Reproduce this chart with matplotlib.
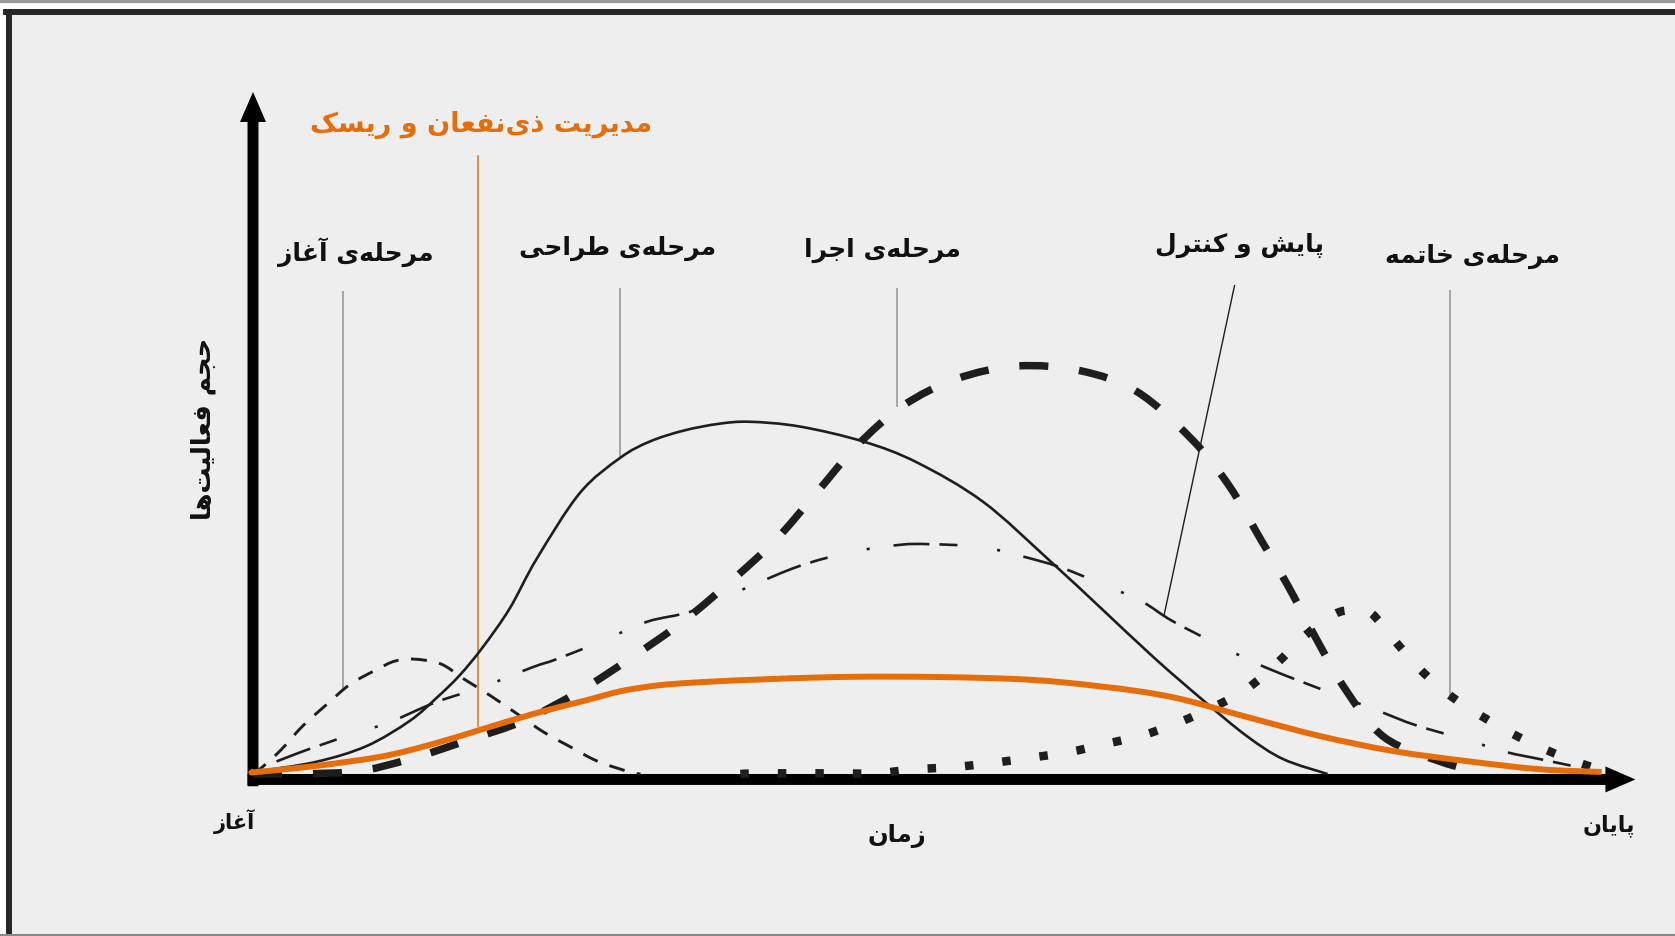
import matplotlib
matplotlib.use('Agg')
import matplotlib.pyplot as plt
from matplotlib.patches import Rectangle, FancyArrowPatch, PathPatch
from matplotlib.lines import Line2D
from matplotlib.path import Path

plt.rcParams['font.family'] = ['DejaVu Sans']
plt.rcParams['lines.scale_dashes'] = False

# ---- texts ----
title_text = 'مدیریت ذی\u200cنفعان و ریسک'
phase_labels = ['مرحله\u200cی آغاز', 'مرحله\u200cی طراحی', 'مرحله\u200cی اجرا',
                'پایش و کنترل', 'مرحله\u200cی خاتمه']
y_label = 'حجم فعالیت\u200cها'
x_label = 'زمان'
start_label = 'آغاز'
end_label = 'پایان'

# ---- curves: x = time (0..100), y = activity volume ----
init_x = [0, 0.5, 2.0, 3.7, 5.5, 7.2, 9.2, 10.5, 11.9, 13.9, 15.6, 17.6, 19.6, 21.5, 23.5, 25.5, 27.9, 28.7]
init_y = [0, 0.7, 3.4, 7.1, 10.3, 13.2, 15.4, 16.6, 16.9, 16.2, 14.0, 11.5, 8.8, 6.2, 4.0, 1.9, 0.3, 0]

design_x = [0, 0.5, 4.7, 8.4, 11.6, 13.6, 15.3, 17.0, 19.0, 21.0, 24.2, 27.2, 29.4, 31.9, 34.5, 36.8,
            40.5, 45.2, 49.2, 54.1, 59.0, 62.7, 66.8, 70.4, 73.6, 76.3, 79.6]
design_y = [0, 0.4, 1.8, 4.1, 7.8, 11.2, 14.5, 18.6, 24.3, 31.6, 41.3, 46.5, 48.9, 50.5, 51.5, 51.8,
            51.1, 48.9, 45.8, 40.0, 31.4, 24.6, 17.0, 10.8, 5.6, 2.2, 0]

exec_x = [0, 7.2, 11.6, 16.1, 20.0, 24.2, 28.1, 31.9, 35.6, 38.8, 41.8, 44.7, 48.1, 52.1, 56.6,
          61.3, 65.5, 69.5, 72.3, 74.7, 76.6, 78.7, 81.0, 83.8, 88.0, 90.9]
exec_y = [0, 0.3, 2.2, 5.1, 7.8, 12.2, 17.2, 22.5, 28.7, 34.6, 41.5, 48.2, 54.1, 58.1, 60.0,
          59.3, 56.2, 49.3, 42.4, 34.3, 27.9, 20.1, 12.2, 5.4, 1.8, 0.3]

monitor_x = [0, 0.7, 4.2, 7.9, 10.1, 13.6, 17.0, 20.7, 22.5, 25.9, 29.2, 32.6, 36.8, 40.5, 44.2,
             47.9, 50.1, 53.9, 56.8, 59.8, 63.3, 65.9, 68.1, 71.7, 74.4, 77.1, 80.7, 83.6, 86.1,
             89.9, 92.9, 95.3, 98.9, 99.8]
monitor_y = [0, 1.0, 3.7, 6.2, 7.6, 10.6, 12.8, 15.7, 16.9, 19.6, 22.4, 24.0, 27.6, 30.6, 32.6,
             33.7, 33.8, 33.4, 32.1, 30.4, 27.6, 25.3, 22.5, 18.8, 16.2, 14.0, 11.3, 9.1, 7.2,
             5.0, 3.2, 2.2, 0.7, 0.3]

closing_x = [36.1, 37.6, 43.3, 46.1, 49.0, 51.8, 54.7, 57.6, 60.4, 63.1, 65.9, 68.6, 71.3, 73.6,
             75.8, 77.9, 80.1, 81.5, 82.8, 84.7, 86.6, 88.7, 91.1, 93.6, 96.2, 98.9, 100.5]
closing_y = [0, 0.1, 0.1, 0.1, 0.7, 1.0, 1.6, 2.4, 3.2, 4.4, 5.7, 7.6, 10.0, 12.5,
             16.2, 20.3, 23.5, 24.1, 23.7, 19.3, 15.1, 11.5, 8.4, 5.6, 3.2, 1.2, 0.3]

risk_x = [0, 0.3, 4.7, 9.6, 13.3, 17.0, 20.7, 24.4, 28.1, 33.1, 44.6, 56.1, 62.7, 68.1, 73.6,
          79.0, 84.4, 89.9, 95.3, 99.9]
risk_y = [0.3, 0.3, 1.2, 2.6, 4.4, 6.6, 8.8, 10.7, 12.5, 13.5, 14.3, 14.0, 12.9, 11.3, 8.4,
          5.6, 3.4, 1.9, 0.7, 0.3]

# ---- simple Persian shaping (presentation forms) ----
FORMS = {
    'ا': (0xFE8D, 0xFE8E), 'آ': (0xFE81, 0xFE82), 'د': (0xFEA9, 0xFEAA),
    'ذ': (0xFEAB, 0xFEAC), 'ر': (0xFEAD, 0xFEAE), 'ز': (0xFEAF, 0xFEB0),
    'و': (0xFEED, 0xFEEE),
    'پ': (0xFB56, 0xFB57, 0xFB58, 0xFB59), 'ت': (0xFE95, 0xFE96, 0xFE97, 0xFE98),
    'ج': (0xFE9D, 0xFE9E, 0xFE9F, 0xFEA0), 'ح': (0xFEA1, 0xFEA2, 0xFEA3, 0xFEA4),
    'خ': (0xFEA5, 0xFEA6, 0xFEA7, 0xFEA8), 'س': (0xFEB1, 0xFEB2, 0xFEB3, 0xFEB4),
    'ش': (0xFEB5, 0xFEB6, 0xFEB7, 0xFEB8), 'ط': (0xFEC1, 0xFEC2, 0xFEC3, 0xFEC4),
    'ع': (0xFEC9, 0xFECA, 0xFECB, 0xFECC), 'غ': (0xFECD, 0xFECE, 0xFECF, 0xFED0),
    'ف': (0xFED1, 0xFED2, 0xFED3, 0xFED4), 'ک': (0xFB8E, 0xFB8F, 0xFB90, 0xFB91),
    'ك': (0xFED9, 0xFEDA, 0xFEDB, 0xFEDC), 'ل': (0xFEDD, 0xFEDE, 0xFEDF, 0xFEE0),
    'م': (0xFEE1, 0xFEE2, 0xFEE3, 0xFEE4), 'ن': (0xFEE5, 0xFEE6, 0xFEE7, 0xFEE8),
    'ه': (0xFEE9, 0xFEEA, 0xFEEB, 0xFEEC), 'ی': (0xFBFC, 0xFBFD, 0xFBFE, 0xFBFF),
    'ي': (0xFEF1, 0xFEF2, 0xFEF3, 0xFEF4),
}


def shape(s):
    out = []
    for i, ch in enumerate(s):
        if ch not in FORMS:
            if ch != '\u200c':
                out.append(ch)
            continue
        prev = s[i - 1] if i > 0 else ''
        nxt = s[i + 1] if i + 1 < len(s) else ''
        f = FORMS[ch]
        jp = prev in FORMS and len(FORMS[prev]) == 4
        jn = len(f) == 4 and nxt in FORMS
        if jp and jn:
            g = f[3]
        elif jp:
            g = f[1]
        elif jn:
            g = f[2]
        else:
            g = f[0]
        out.append(chr(g))
    return ''.join(reversed(out))


def smooth_path(xs, ys):
    # bezier path passing through the points (catmull-rom handles)
    pts = list(zip(xs, ys))
    verts = [pts[0]]
    codes = [Path.MOVETO]
    for i in range(len(pts) - 1):
        p0 = pts[i - 1] if i > 0 else pts[i]
        p1 = pts[i]
        p2 = pts[i + 1]
        p3 = pts[i + 2] if i + 2 < len(pts) else p2
        verts.append((p1[0] + (p2[0] - p0[0]) / 6, p1[1] + (p2[1] - p0[1]) / 6))
        verts.append((p2[0] - (p3[0] - p1[0]) / 6, p2[1] - (p3[1] - p1[1]) / 6))
        verts.append(p2)
        codes += [Path.CURVE4] * 3
    return Path(verts, codes)


def curve(ax, xs, ys, color, lw, dashes=None, z=3):
    ls = '-' if dashes is None else (0, dashes)
    ax.add_patch(PathPatch(smooth_path(xs, ys), facecolor='none', edgecolor=color,
                           lw=lw, linestyle=ls, capstyle='butt', joinstyle='round',
                           zorder=z))


fig = plt.figure(figsize=(16.75, 9.37), dpi=100, facecolor='white')
W, H = 1675, 937

# frame around the picture
fig.patches.append(Rectangle((0, 1 - 3 / H), 1, 3 / H, transform=fig.transFigure,
                             color='#9a9a9a', zorder=-10))
fig.patches.append(Rectangle((9 / W, 1 / H), 1, 1 - 14 / H, transform=fig.transFigure,
                             color='#eeeeee', zorder=-10))
fig.lines.append(Line2D([6 / W, 1], [1 - 13 / H, 1 - 13 / H], transform=fig.transFigure,
                        color='#262626', lw=4.3, zorder=-9))
fig.lines.append(Line2D([9 / W, 9 / W], [0, 1 - 13 / H], transform=fig.transFigure,
                        color='#262626', lw=4.3, zorder=-9))
fig.lines.append(Line2D([0, 1], [0.8 / H, 0.8 / H], transform=fig.transFigure,
                        color='#8a8a8a', lw=1.5, zorder=-9))

ax = fig.add_axes([0, 0, 1, 1])
ax.set_xlim(-18.74, 105.33)
ax.set_ylim(-23.82, 113.97)
ax.axis('off')

# axes arrows
arrow = 'simple,head_length=21.6,head_width=18.7,tail_width=7.9'
ax.add_patch(FancyArrowPatch((0, -1.8), (0, 100.3), arrowstyle=arrow, mutation_scale=1,
                             color='black', lw=0, shrinkA=0, shrinkB=0, zorder=2))
ax.add_patch(FancyArrowPatch((-0.4, -0.8), (102.4, -0.8), arrowstyle=arrow, mutation_scale=1,
                             color='black', lw=0, shrinkA=0, shrinkB=0, zorder=2))

ink = '#1e1e1e'
curve(ax, closing_x, closing_y, ink, 6.1, (6.1, 20.9))
curve(ax, init_x, init_y, ink, 2.1, (11.5, 9.0))
curve(ax, monitor_x, monitor_y, ink, 1.9, (2.2, 17.3, 25.9, 7.2, 13.0, 28.8))
curve(ax, exec_x, exec_y, ink, 5.4, (20.9, 22.3))
curve(ax, design_x, design_y, ink, 1.9)
curve(ax, risk_x, risk_y, '#e66d0c', 4.3, z=4)

# pointer lines from labels to curves
grey = '#a6a6a6'
ax.plot([6.67, 6.67], [70.9, 12.5], color=grey, lw=1.4, zorder=1)
ax.plot([27.2, 27.2], [71.3, 46.8], color=grey, lw=1.4, zorder=1)
ax.plot([47.7, 47.7], [71.3, 54.1], color=grey, lw=1.4, zorder=1)
ax.plot([72.7, 67.5], [71.8, 23.5], color=ink, lw=1.0, zorder=1)
ax.plot([88.7, 88.7], [71.0, 11.5], color=grey, lw=1.4, zorder=1)
ax.plot([16.7, 16.7], [90.9, 7.1], color='#e8720c', lw=1.15, zorder=1)

# labels
label_xy = [(7.6, 76.9), (27.0, 77.5), (46.6, 77.2), (73.1, 77.9), (90.3, 76.2)]
for txt, (lx, ly) in zip(phase_labels, label_xy):
    ax.text(lx, ly, shape(txt), ha='center', va='center', fontsize=18,
            fontweight='bold', color='#111111')
ax.text(16.9, 95.6, shape(title_text), ha='center', va='center', fontsize=19.5,
        fontweight='bold', color='#e66d0c')
ax.text(-3.7, 50.9, shape(y_label), ha='center', va='center', fontsize=18.5,
        fontweight='bold', rotation=90, color='#111111')
ax.text(47.7, -9.0, shape(x_label), ha='center', va='center', fontsize=17.5,
        fontweight='bold', color='#111111')
ax.text(-1.4, -6.8, shape(start_label), ha='center', va='center', fontsize=15,
        fontweight='bold', color='#111111')
ax.text(100.4, -7.5, shape(end_label), ha='center', va='center', fontsize=16,
        fontweight='bold', color='#111111')

fig.savefig('out.png', dpi=100)
